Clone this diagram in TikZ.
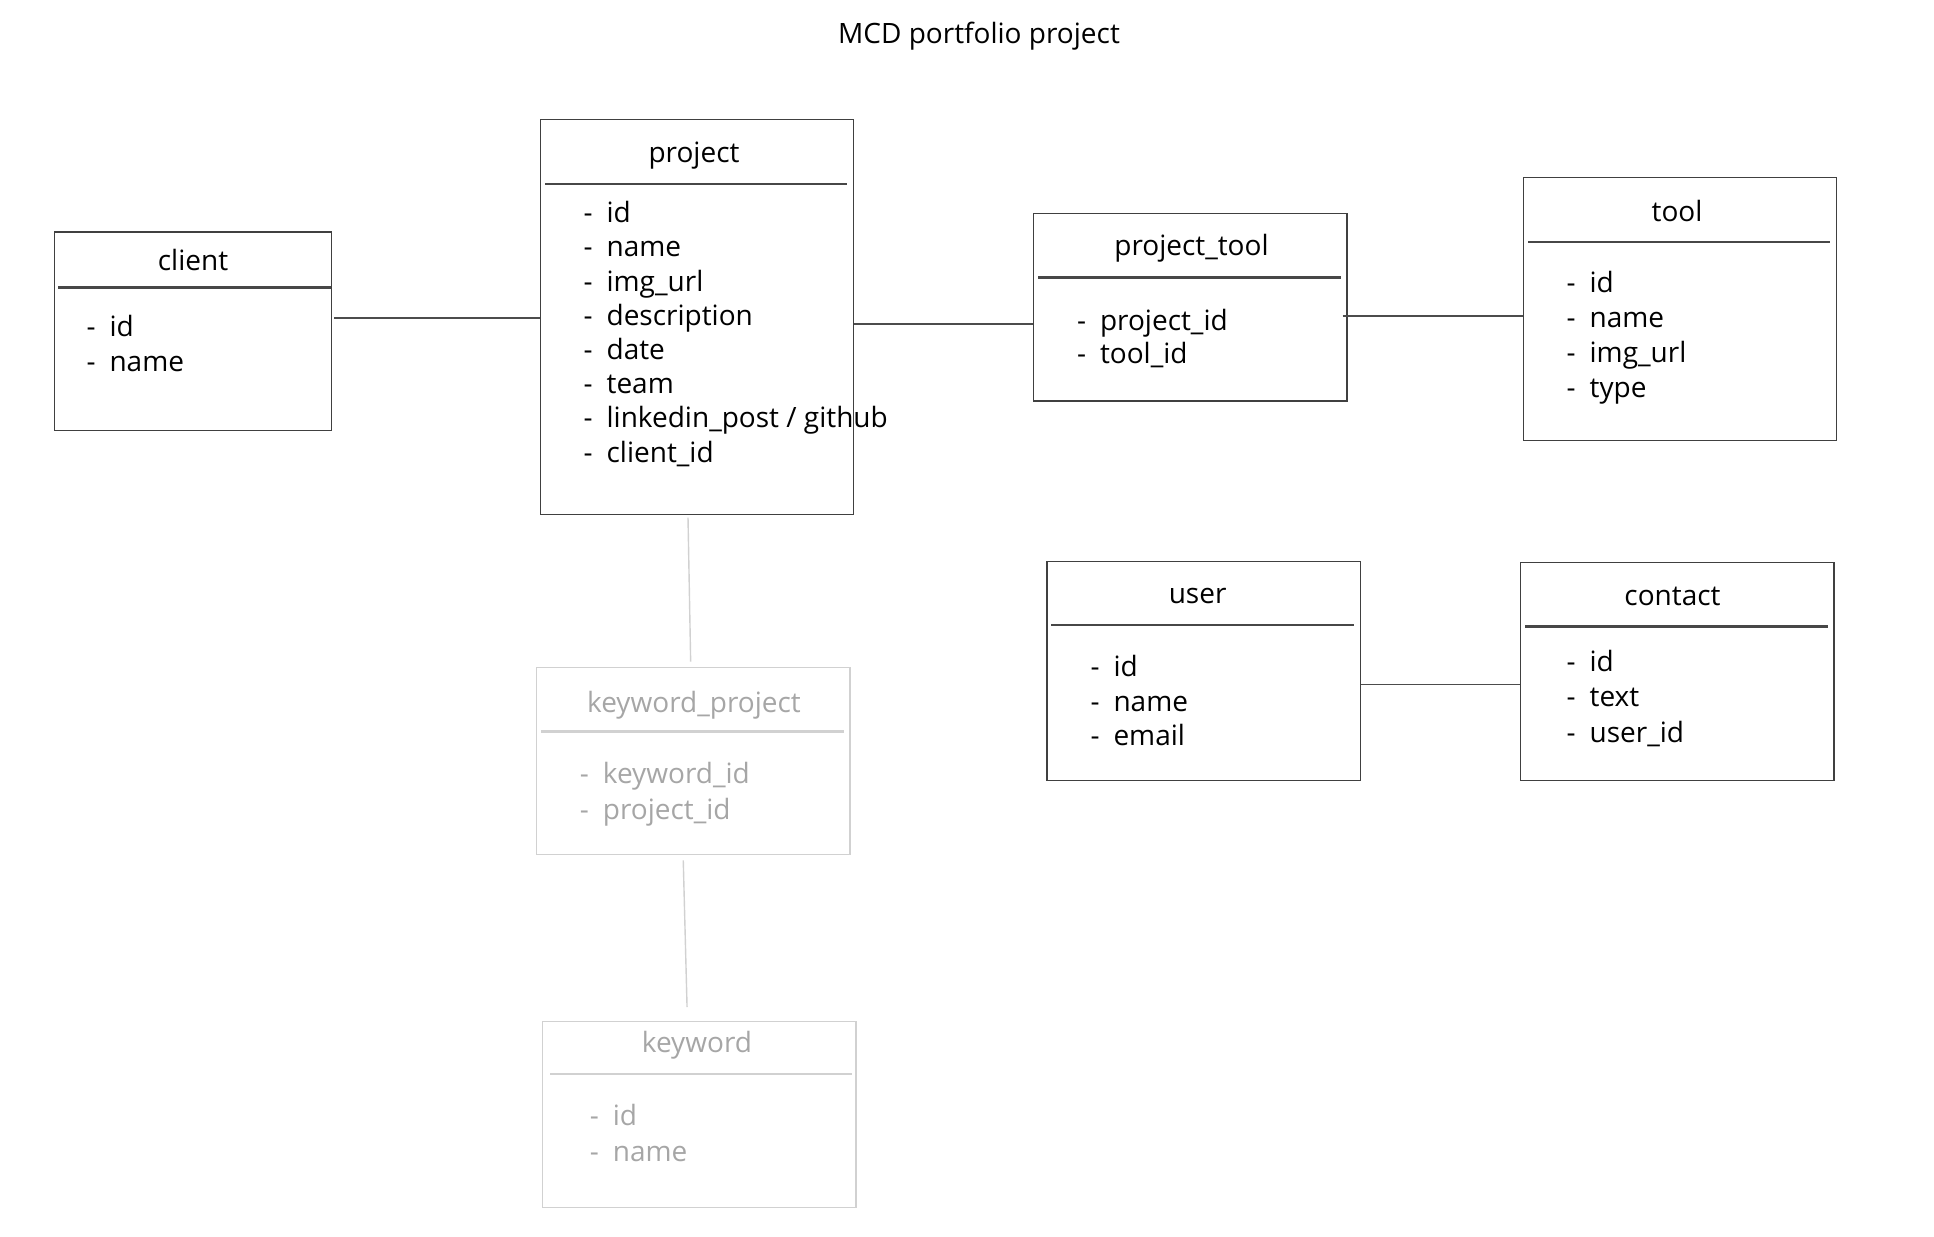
\documentclass[tikz,border=0pt]{standalone}
\usepackage{fontspec}
\setmainfont{Open Sans}
\usetikzlibrary{calc}

\tikzset{
  entity/.style={draw=black!75, line width=1.4pt, minimum width=313.3pt, inner sep=0pt},
  heading/.style={font=\fontsize{28}{34}\selectfont, inner sep=0pt, text height=24pt, text depth=3pt},
  attrtext/.style={heading, anchor=west},
  divider/.style={draw=black!72, line width=2.3pt},
  link/.style={draw=black!70, line width=1.4pt},
  fadedbox/.style={draw=black!18},
  fadedtext/.style={text=black!35},
}

\begin{document}
\begin{tikzpicture}[x=1pt, y=-1pt]
  \useasboundingbox (0,0) rectangle (1934,1236);

  % Diagram title
  \node[heading] (title) at (979,33) {MCD portfolio project};

  % client
  \node[entity, minimum width=277.5pt, minimum height=198.6pt] (client) at (193,331.2) {};
  \node[heading] (client-title) at (193,260) {client};
  \draw[divider] (58,287.4) -- (331,287.4);
  \foreach \a [count=\i from 0] in {id, name}
    \node[attrtext] (client-\i) at (86.3,325.6+35.8*\i) {-\hspace{0.5em}\a};

  % project
  \node[entity, minimum width=313.5pt, minimum height=394.7pt] (project) at (697,317) {};
  \node[heading] (project-title) at (694,151.7) {project};
  \draw[divider] (545,183.8) -- (847,183.8);
  \foreach \a [count=\i from 0] in {id, name, img\_url, description, date, team, linkedin\_post / github, client\_id}
    \node[attrtext] (project-\i) at (583.4,212.1+34.2*\i) {-\hspace{0.5em}\a};

  % project_tool (join table)
  \node[entity, minimum height=187.5pt] (ptool) at (1190.25,307.15) {};
  \node[heading] (ptool-title) at (1191.5,245.4) {project\_tool};
  \draw[divider] (1038,277.5) -- (1341,277.5);
  \foreach \a [count=\i from 0] in {project\_id, tool\_id}
    \node[attrtext] (ptool-\i) at (1076.8,319.5+33.2*\i) {-\hspace{0.5em}\a};

  % tool
  \node[entity, minimum height=262.7pt] (tool) at (1679.85,308.95) {};
  \node[heading] (tool-title) at (1677,210.9) {tool};
  \draw[divider] (1528,241.7) -- (1830,241.7);
  \foreach \a [count=\i from 0] in {id, name, img\_url, type}
    \node[attrtext] (tool-\i) at (1566.4,282.4+35*\i) {-\hspace{0.5em}\a};

  % user
  \node[entity, minimum height=219.5pt] (user) at (1203.8,670.95) {};
  \node[heading] (user-title) at (1197.6,593.3) {user};
  \draw[divider] (1051,625.3) -- (1354,625.3);
  \foreach \a [count=\i from 0] in {id, name, email}
    \node[attrtext] (user-\i) at (1090.3,666+34.5*\i) {-\hspace{0.5em}\a};

  % contact
  \node[entity, minimum height=218.3pt] (contact) at (1677.4,671.55) {};
  \node[heading] (contact-title) at (1672.5,594.5) {contact};
  \draw[divider] (1525,626.6) -- (1828,626.6);
  \foreach \a [count=\i from 0] in {id, text, user\_id}
    \node[attrtext] (contact-\i) at (1566.4,661.1+35.2*\i) {-\hspace{0.5em}\a};

  % keyword_project (faded)
  \node[entity, fadedbox, minimum height=187.4pt] (kwproject) at (693.15,761) {};
  \node[heading, fadedtext] (kwproject-title) at (694,701.8) {keyword\_project};
  \draw[divider, fadedbox] (541,731.4) -- (844,731.4);
  \foreach \a [count=\i from 0] in {keyword\_id, project\_id}
    \node[attrtext, fadedtext] (kwproject-\i) at (579.7,773.3+35.8*\i) {-\hspace{0.5em}\a};

  % keyword (faded)
  \node[entity, fadedbox, minimum height=186.2pt] (keyword) at (699.35,1114.4) {};
  \node[heading, fadedtext] (keyword-title) at (697,1042.2) {keyword};
  \draw[divider, fadedbox] (550,1074.3) -- (852,1074.3);
  \foreach \a [count=\i from 0] in {id, name}
    \node[attrtext, fadedtext] (keyword-\i) at (589.6,1115+35.8*\i) {-\hspace{0.5em}\a};

  % Relations
  \draw[link] ($(project.west -| client.east)+(2,1)$) -- ($(project.west)+(0,1)$);
  \draw[link] ($(project.east)+(0,7)$) -- ($(project.east -| ptool.west)+(0,7)$);
  \draw[link] ($(tool.west -| ptool.east)+(-5,7)$) -- ($(tool.west)+(0,7)$);
  \draw[link] ($(user.east)+(0,13.5)$) -- ($(user.east -| contact.west)+(0,13.5)$);
  \draw[link, fadedbox] ($(project.south)+(-9,2.5)$) -- ($(kwproject.north)+(-2.5,-5)$);
  \draw[link, fadedbox] ($(kwproject.south)+(-9.9,5)$) -- ($(keyword.north)+(-12.3,-13.6)$);
\end{tikzpicture}
\end{document}
